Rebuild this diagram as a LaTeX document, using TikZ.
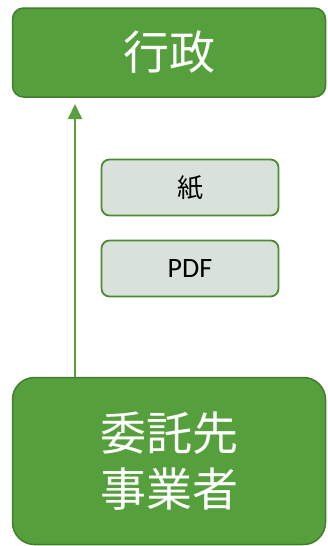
\documentclass[tikz,border=0pt]{standalone}
\usepackage{fontspec}
\setmainfont{Noto Sans CJK JP}
\newfontfamily\latinfont{Carlito}
\usetikzlibrary{arrows.meta}
\definecolor{gfill}{HTML}{559F3C}
\definecolor{gline}{HTML}{437D2F}
\definecolor{pfill}{HTML}{D8E2DA}
\definecolor{pline}{HTML}{4E8A34}
\definecolor{arrowc}{HTML}{5AA03F}
\begin{document}
\begin{tikzpicture}[x=1pt,y=-1pt,
  bigbox/.style={draw=gline,fill=gfill,line width=1.5pt,text=white,
    font=\fontsize{46}{56}\selectfont,align=center,inner sep=0pt},
  docbox/.style={draw=pline,fill=pfill,line width=1.8pt,rounded corners=8pt,
    minimum width=177pt,minimum height=56pt,inner sep=0pt,
    font=\fontsize{26}{30}\selectfont},
  flow/.style={draw=arrowc,line width=2pt,-{Triangle[length=15pt,width=14pt]}}]
\useasboundingbox (0,0) rectangle (327,546);
\node[bigbox,rounded corners=11pt,minimum width=313pt,minimum height=89pt] (gov) at (169,52.5) {行政};
\node[bigbox,rounded corners=22pt,minimum width=313pt,minimum height=167pt] (sup) at (169,461) {委託先\\事業者};
\node[docbox] (paper) at (190,187.5) {紙};
\node[docbox,font=\latinfont\fontsize{28}{32}\selectfont] (pdf) at (190,268.5) {PDF};
\coordinate (s) at (75,377);
\coordinate (e) at (75,104);
\draw[flow] (s) -- (e);
\end{tikzpicture}
\end{document}
